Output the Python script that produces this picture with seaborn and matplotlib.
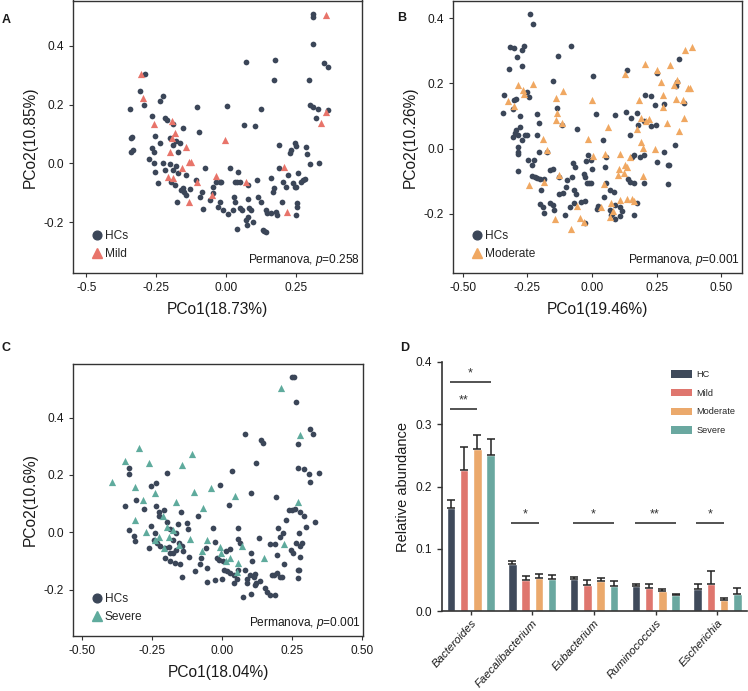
import matplotlib
matplotlib.use("Agg")
import matplotlib.pyplot as plt
import seaborn as sns
import pandas as pd
import numpy as np
from matplotlib.lines import Line2D
from matplotlib.patches import Patch

# ---------------- data ----------------
A_hc = [(0.31,0.508),(0.31,0.499),(0.31,0.407),(0.071,0.345),(0.175,0.350),(0.169,0.282),(0.295,0.285),
        (0.348,0.342),(0.363,0.328),(0.298,0.198),(0.31,0.192),(0.327,0.184),(0.321,0.153),(0.365,0.181),
        (0.125,0.186),(0.104,0.128),(0.064,0.132),(0.001,0.195),(-0.105,0.192),(-0.099,0.105),(-0.292,0.303),
        (-0.31,0.245),(-0.295,0.20),(-0.345,0.186),(-0.238,0.211),(-0.226,0.228),(-0.265,0.162),(-0.218,0.153),
        (-0.212,0.147),(-0.156,0.119),(-0.19,0.133),(-0.255,0.093),(-0.342,0.087),(-0.337,0.088),(-0.339,0.04),
        (-0.333,0.045),(-0.236,0.068),(-0.264,0.053),(-0.257,0.037),(-0.202,0.087),(-0.19,0.064),(-0.181,0.076),
        (-0.167,0.068),(-0.173,0.04),(-0.277,0.015),(-0.257,0.002),(-0.226,0.0),(-0.202,-0.003),(-0.179,-0.008),
        (-0.218,-0.023),(-0.254,-0.028),(-0.19,-0.023),(-0.171,-0.034),(-0.143,-0.04),(-0.244,-0.068),(-0.196,-0.062),
        (-0.185,-0.073),(-0.155,-0.085),(-0.151,-0.096),(-0.161,-0.09),(-0.129,-0.088),(-0.143,-0.107),(-0.175,-0.13),
        (-0.107,-0.056),(-0.075,-0.015),(-0.095,-0.113),(-0.086,-0.098),(-0.085,-0.155),(-0.06,-0.124),(-0.048,-0.079),
        (-0.036,-0.062),(-0.024,-0.062),(-0.018,-0.065),(-0.048,-0.102),(-0.024,-0.13),(-0.03,-0.147),(-0.012,-0.158),
        (0.007,-0.173),(0.024,-0.158),(0.012,-0.017),(0.042,-0.028),(0.03,-0.062),(0.039,-0.062),(0.048,-0.062),
        (0.077,-0.073),(0.027,-0.113),(0.03,-0.13),(0.048,-0.153),(0.056,-0.158),(0.038,-0.224),(0.071,-0.192),
        (0.077,-0.184),(0.074,-0.211),(0.095,-0.2),(0.077,-0.122),(0.081,-0.153),(0.089,-0.158),(0.111,-0.056),
        (0.113,-0.113),(0.125,-0.13),(0.143,-0.158),(0.146,-0.169),(0.131,-0.226),(0.143,-0.234),(0.135,-0.23),
        (0.161,-0.051),(0.169,-0.085),(0.167,-0.096),(0.179,-0.166),(0.182,-0.175),(0.161,-0.169),(0.188,-0.017),
        (0.19,0.062),(0.202,-0.062),(0.198,-0.13),(0.22,-0.04),(0.226,0.034),(0.232,0.045),(0.244,0.068),(0.25,0.06),
        (0.238,-0.068),(0.244,-0.079),(0.25,-0.082),(0.254,-0.136),(0.254,-0.147),(0.248,-0.175),(0.256,-0.034),
        (0.268,-0.062),(0.274,-0.056),(0.282,-0.053),(0.286,0.056),(0.288,0.032),(0.298,-0.003),(0.333,0.0),
        (0.212,-0.081)]
A_mild = [(-0.304,0.303),(-0.298,0.223),(-0.259,0.133),(-0.194,0.145),(-0.182,0.102),(-0.193,0.087),(-0.202,0.04),
          (-0.143,0.054),(-0.133,0.006),(-0.125,0.004),(-0.158,-0.015),(-0.208,-0.045),(-0.19,-0.051),(-0.104,-0.062),
          (-0.133,-0.133),(-0.05,-0.107),(-0.038,-0.042),(-0.004,0.081),(0.071,-0.062),(0.206,-0.011),(0.217,-0.167),
          (0.356,0.506),(0.357,0.175),(0.337,0.136)]

B_hc = [(-0.241,0.413),(-0.229,0.381),(-0.316,0.311),(-0.3,0.308),(-0.29,0.281),(-0.271,0.301),(-0.262,0.314),
        (-0.322,0.243),(-0.271,0.252),(-0.341,0.165),(-0.303,0.15),(-0.292,0.151),(-0.307,0.122),(-0.345,0.11),
        (-0.251,0.173),(-0.242,0.158),(-0.213,0.107),(-0.206,0.079),(-0.277,0.099),(-0.277,0.066),(-0.294,0.056),
        (-0.296,0.048),(-0.305,0.036),(-0.284,0.041),(-0.258,0.041),(-0.251,0.041),(-0.271,0.026),(-0.286,0.005),
        (-0.284,-0.01),(-0.286,-0.017),(-0.213,0.043),(-0.206,-0.01),(-0.248,-0.034),(-0.225,-0.034),(-0.232,-0.051),
        (-0.286,-0.068),(-0.232,-0.085),(-0.219,-0.087),(-0.213,-0.089),(-0.2,-0.092),(-0.187,-0.092),(-0.174,-0.01),
        (-0.161,-0.066),(-0.129,-0.087),(-0.151,-0.061),(-0.196,-0.128),(-0.2,-0.17),(-0.191,-0.179),(-0.184,-0.197),
        (-0.164,-0.168),(-0.151,-0.173),(-0.148,-0.189),(-0.129,-0.138),(-0.112,-0.136),(-0.106,-0.204),(-0.097,-0.097),
        (-0.099,-0.117),(-0.077,-0.087),(-0.073,-0.043),(-0.067,-0.056),(-0.071,-0.128),(-0.062,-0.138),(-0.084,-0.179),
        (-0.071,-0.168),(-0.043,-0.163),(-0.026,-0.16),(-0.032,-0.077),(-0.026,-0.087),(-0.019,-0.104),(-0.012,-0.105),
        (-0.004,-0.105),(-0.022,-0.039),(-0.004,-0.034),(0.0,-0.061),(-0.028,-0.228),(-0.015,-0.02),(0.019,-0.184),
        (0.023,-0.177),(0.055,-0.105),(0.045,-0.148),(0.068,-0.128),(0.084,-0.133),(0.09,-0.173),(0.071,-0.189),
        (0.077,-0.199),(0.09,-0.214),(0.11,-0.207),(0.116,-0.192),(0.107,-0.179),(0.073,-0.204),(0.161,-0.204),
        (0.052,-0.056),(0.054,-0.026),(0.09,0.102),(0.133,0.112),(0.152,0.094),(0.174,0.11),(0.148,0.041),
        (0.138,-0.092),(0.146,-0.102),(0.164,-0.104),(0.174,-0.168),(0.155,-0.026),(0.161,-0.018),(0.178,0.071),
        (0.202,0.084),(0.206,0.163),(0.229,0.161),(0.245,0.133),(0.229,0.068),(0.247,0.073),(0.251,0.232),
        (0.277,0.138),(0.202,-0.105),(0.187,-0.026),(0.203,-0.018),(0.251,-0.041),(0.277,-0.01),(0.294,-0.107),
        (0.294,-0.051),(0.299,-0.049),(0.322,0.01),(0.326,0.191),(0.329,0.204),(0.338,0.276),(0.354,0.141),
        (0.003,0.224),(-0.081,0.314),(-0.133,0.283),(-0.151,0.207),(-0.135,0.126),(-0.116,0.073),(-0.058,0.061),
        (0.017,0.107),(0.041,0.026),(0.135,0.24)]
B_moderate = [(0.387,0.311),(0.361,0.303),(0.303,0.255),(0.204,0.26),(0.251,0.242),(0.129,0.23),(0.267,0.204),
              (0.329,0.209),(0.316,0.194),(0.378,0.187),(0.371,0.187),(0.274,0.163),(0.326,0.151),(0.351,0.148),
              (0.275,0.128),(0.18,0.148),(0.22,0.092),(0.209,0.085),(0.189,0.095),(0.29,0.08),(0.354,0.095),
              (0.336,0.053),(0.174,0.059),(0.189,0.02),(0.197,0.002),(0.245,-0.002),(0.196,-0.084),(0.148,-0.026),
              (0.11,-0.015),(0.129,-0.049),(0.135,-0.056),(0.122,-0.074),(0.103,-0.061),(0.1,-0.082),(0.045,-0.107),
              (0.052,-0.015),(0.061,0.066),(0.006,-0.023),(-0.014,0.031),(-0.001,0.148),(0.135,-0.155),(0.155,-0.155),
              (0.161,-0.16),(0.107,-0.158),(0.073,-0.168),(0.068,-0.209),(0.08,-0.191),(0.036,-0.179),(-0.045,-0.211),
              (-0.032,-0.224),(-0.058,-0.177),(-0.08,-0.245),(-0.142,-0.217),(-0.187,-0.102),(-0.245,-0.112),
              (-0.129,-0.082),(-0.189,0.031),(-0.174,-0.005),(-0.138,0.156),(-0.112,0.177),(-0.135,0.109),
              (-0.139,0.087),(-0.116,0.079),(-0.228,0.199),(-0.284,0.194),(-0.267,0.181),(-0.262,0.168),
              (-0.326,0.145),(-0.303,0.13)]

C_hc = [(0.25,0.541),(0.256,0.541),(0.264,0.456),(0.081,0.343),(0.14,0.322),(0.145,0.31),(0.123,0.243),
        (0.315,0.361),(0.327,0.343),(0.271,0.308),(0.271,0.223),(0.292,0.222),(0.312,0.203),(0.315,0.177),
        (0.348,0.206),(0.194,0.124),(0.105,0.136),(0.037,0.215),(-0.008,0.165),(0.026,0.095),(-0.331,0.223),
        (-0.333,0.202),(-0.196,0.208),(-0.235,0.173),(-0.254,0.162),(-0.306,0.113),(-0.345,0.092),(-0.28,0.081),
        (-0.236,0.09),(-0.226,0.072),(-0.208,0.078),(-0.223,0.055),(-0.331,0.008),(-0.315,-0.012),(-0.31,-0.03),
        (-0.252,0.022),(-0.238,-0.001),(-0.262,-0.056),(-0.244,-0.027),(-0.232,-0.038),(-0.22,-0.048),(-0.202,-0.056),
        (-0.19,-0.05),(-0.196,0.034),(-0.185,0.01),(-0.157,0.028),(-0.145,0.072),(-0.125,0.031),(-0.121,0.01),
        (-0.163,-0.001),(-0.173,-0.027),(-0.155,-0.038),(-0.143,-0.048),(-0.164,-0.062),(-0.185,-0.073),(-0.173,-0.073),
        (-0.202,-0.091),(-0.185,-0.102),(-0.167,-0.106),(-0.149,-0.11),(-0.139,-0.065),(-0.119,-0.085),(-0.143,-0.155),
        (-0.095,-0.135),(-0.077,-0.11),(-0.074,-0.091),(-0.054,-0.126),(-0.054,-0.172),(-0.086,0.055),(-0.033,0.014),
        (-0.024,-0.033),(-0.056,-0.056),(-0.018,-0.091),(-0.024,-0.166),(0.0,-0.164),(-0.012,-0.097),(0.004,-0.099),
        (0.014,-0.064),(0.03,-0.058),(0.008,-0.131),(0.018,-0.135),(0.03,-0.143),(0.042,-0.149),(0.056,-0.024),
        (0.057,0.014),(0.063,-0.038),(0.056,-0.131),(0.044,-0.178),(0.054,-0.164),(0.081,-0.131),(0.089,-0.164),
        (0.089,-0.176),(0.077,-0.227),(0.104,-0.215),(0.101,-0.149),(0.113,-0.155),(0.119,-0.147),(0.121,-0.176),
        (0.117,-0.184),(0.135,-0.169),(0.131,-0.019),(0.104,-0.071),(0.107,-0.102),(0.155,-0.195),(0.161,-0.207),
        (0.17,-0.219),(0.188,-0.219),(0.179,-0.149),(0.185,-0.149),(0.196,-0.143),(0.208,-0.155),(0.214,-0.157),
        (0.17,-0.041),(0.188,-0.041),(0.196,-0.079),(0.202,0.014),(0.206,-0.015),(0.218,-0.001),(0.22,-0.11),
        (0.23,0.043),(0.239,0.076),(0.25,0.076),(0.262,0.08),(0.248,-0.062),(0.254,-0.073),(0.265,-0.038),
        (0.271,-0.131),(0.277,-0.131),(0.271,-0.16),(0.28,-0.087),(0.28,-0.047),(0.286,-0.038),(0.28,0.072),
        (0.292,0.055),(0.301,0.017),(0.333,0.034),(0.274,-0.003)]
C_severe = [(0.212,0.505),(0.28,0.34),(0.271,0.105),(0.22,-0.041),(0.151,-0.091),(0.056,-0.106),(0.048,0.128),
            (0.071,-0.048),(0.054,-0.14),(0.029,-0.091),(0.014,-0.102),(-0.006,-0.052),(-0.002,-0.073),(-0.071,-0.064),
            (-0.068,0.084),(-0.054,-0.027),(-0.039,0.153),(-0.098,0.142),(-0.107,0.272),(-0.143,0.233),(-0.164,0.107),
            (-0.115,-0.023),(-0.155,-0.044),(-0.173,0.008),(-0.196,0.02),(-0.211,0.055),(-0.19,-0.015),(-0.226,-0.015),
            (-0.208,-0.056),(-0.238,-0.027),(-0.27,0.002),(-0.238,0.138),(-0.262,0.241),(-0.298,0.293),(-0.348,0.247),
            (-0.393,0.174),(-0.31,0.159),(-0.283,0.113),(-0.31,0.043)]

genera = ["Bacteroides", "Faecalibacterium", "Eubacterium", "Ruminococcus", "Escherichia"]
groups = ["HC", "Mild", "Moderate", "Severe"]
mean_HC       = [0.166, 0.075, 0.051, 0.040, 0.036]
mean_Mild     = [0.227, 0.049, 0.042, 0.037, 0.044]
mean_Moderate = [0.261, 0.053, 0.048, 0.032, 0.017]
mean_Severe   = [0.250, 0.052, 0.040, 0.025, 0.027]
top_HC        = [0.179, 0.081, 0.055, 0.043, 0.043]
top_Mild      = [0.263, 0.057, 0.049, 0.044, 0.064]
top_Moderate  = [0.282, 0.060, 0.053, 0.036, 0.021]
top_Severe    = [0.276, 0.058, 0.048, 0.028, 0.037]
# significance: (genus index, target group, y, label)
sig_marks = [(0, "Severe", 0.368, "*"), (0, "Moderate", 0.325, "**"), (1, "Moderate", 0.142, "*"),
             (2, "Severe", 0.142, "*"), (3, "Severe", 0.142, "**"), (4, "Moderate", 0.142, "*")]

# ---------------- style ----------------
sns.set_theme(style="ticks")
plt.rcParams['font.family'] = ['Liberation Sans', 'DejaVu Sans']
plt.rcParams['mathtext.fontset'] = 'custom'
plt.rcParams['mathtext.it'] = 'Liberation Sans:italic'
plt.rcParams['mathtext.rm'] = 'Liberation Sans'

HC_COL = "#3b4658"
PAT_COLS = {"Mild": "#e8746a", "Moderate": "#f0a862", "Severe": "#5fab9d"}
BAR_COLS = {"HC": "#3f4a5b", "Mild": "#df766e", "Moderate": "#eba96c", "Severe": "#6aa8a0"}
TXT = "#1a1a1a"
SPINE = "#333333"

W, H = 748, 691
fig = plt.figure(figsize=(W / 100, H / 100), dpi=100)


def frac(l, t, r, b):
    return [l / W, 1 - b / H, (r - l) / W, (b - t) / H]


def scatter_panel(rect, hc, pat, pname, xlim, ylim, xticks, xtl, xlabel, ylabel, ptext, letter, lpos):
    ax = fig.add_axes(frac(*rect))
    df_hc = pd.DataFrame(hc, columns=["x", "y"])
    df_pat = pd.DataFrame(pat, columns=["x", "y"])
    sns.scatterplot(data=df_hc, x="x", y="y", color=HC_COL, marker="o", s=17,
                    linewidth=0, ax=ax, legend=False)
    sns.scatterplot(data=df_pat, x="x", y="y", color=PAT_COLS[pname], marker="^", s=27,
                    linewidth=0, ax=ax, legend=False)
    ax.set_xlim(xlim)
    ax.set_ylim(ylim)
    ax.set_xticks(xticks)
    ax.set_xticklabels(xtl)
    ax.set_yticks([-0.2, 0.0, 0.2, 0.4])
    ax.set_yticklabels(["-0.2", "0.0", "0.2", "0.4"])
    ax.tick_params(labelsize=8.6, colors=SPINE, labelcolor=TXT, length=3, width=0.8)
    ax.set_xlabel(xlabel, fontsize=11.2, color=TXT, labelpad=6)
    ax.set_ylabel(ylabel, fontsize=11.2, color=TXT, labelpad=4)
    for s in ax.spines.values():
        s.set_visible(True)
        s.set_color(SPINE)
        s.set_linewidth(1.0)
    handles = [Line2D([], [], marker="o", color=HC_COL, linestyle="", markersize=6.3),
               Line2D([], [], marker="^", color=PAT_COLS[pname], linestyle="", markersize=6.5)]
    ax.legend(handles, ["HCs", pname], loc="lower left", frameon=False, fontsize=8.6,
              handletextpad=0.05, labelspacing=0.5, borderaxespad=0.0, handlelength=1.2,
              bbox_to_anchor=(0.042, 0.03))
    ax.text(0.995, 0.02, ptext, transform=ax.transAxes, ha="right", va="bottom",
            fontsize=8.6, color=TXT)
    fig.text(lpos[0] / W, 1 - lpos[1] / H, letter, fontsize=9, fontweight="bold",
             color=TXT, ha="left", va="center")
    return ax


scatter_panel((73, 0.5, 362, 273), A_hc, A_mild, "Mild", (-0.548, 0.485), (-0.373, 0.554),
              [-0.5, -0.25, 0.0, 0.25], ["-0.5", "-0.25", "0.00", "0.25"],
              "PCo1(18.73%)", "PCo2(10.85%)", r"Permanova, $p$=0.258", "A", (2, 20))
scatter_panel((453, 0.5, 742, 273), B_hc, B_moderate, "Moderate", (-0.537, 0.58), (-0.381, 0.454),
              [-0.5, -0.25, 0.0, 0.25, 0.5], ["-0.50", "-0.25", "0.00", "0.25", "0.50"],
              "PCo1(19.46%)", "PCo2(10.26%)", r"Permanova, $p$=0.001", "B", (397, 18))
scatter_panel((73, 364, 363, 636), C_hc, C_severe, "Severe", (-0.532, 0.504), (-0.362, 0.587),
              [-0.5, -0.25, 0.0, 0.25, 0.5], ["-0.50", "-0.25", "0.00", "0.25", "0.50"],
              "PCo1(18.04%)", "PCo2(10.6%)", r"Permanova, $p$=0.001", "C", (1, 348))

# ---------------- panel D ----------------
axD = fig.add_axes(frac(442, 362, 747, 611))
means = {"HC": mean_HC, "Mild": mean_Mild, "Moderate": mean_Moderate, "Severe": mean_Severe}
tops = {"HC": top_HC, "Mild": top_Mild, "Moderate": top_Moderate, "Severe": top_Severe}
rows = []
for g in groups:
    for i, gen in enumerate(genera):
        rows.append({"genus": gen, "group": g, "value": means[g][i]})
dfD = pd.DataFrame(rows)
sns.barplot(data=dfD, x="genus", y="value", hue="group", order=genera, hue_order=groups,
            palette=BAR_COLS, width=0.86, gap=0.36, errorbar=None, saturation=1,
            ax=axD, legend=False)
centers = {}
for g, cont in zip(groups, axD.containers):
    xs = [p.get_x() + p.get_width() / 2 for p in cont.patches]
    hs = [p.get_height() for p in cont.patches]
    centers[g] = xs
    axD.errorbar(xs, hs, yerr=[np.zeros(len(hs)), np.array(tops[g]) - np.array(hs)],
                 fmt="none", ecolor="#222222", elinewidth=1.1, capsize=2.6, capthick=1.1, zorder=1)
for gi, target, yv, lab in sig_marks:
    x0 = centers["HC"][gi] - 0.02
    x1 = centers[target][gi]
    axD.plot([x0, x1], [yv, yv], color="#444444", lw=1.3, solid_capstyle="butt")
    axD.text((x0 + x1) / 2, yv + 0.004, lab, ha="center", va="bottom", fontsize=9, color="#333333")

axD.set_xlim(-0.465, 4.48)
axD.set_ylim(0, 0.4)
axD.set_yticks([0.0, 0.1, 0.2, 0.3, 0.4])
axD.set_yticklabels(["0.0", "0.1", "0.2", "0.3", "0.4"])
axD.set_xlabel("")
axD.set_ylabel("Relative abundance", fontsize=10.5, color=TXT, labelpad=4)
axD.tick_params(axis="y", labelsize=8.6, length=3.5, width=1.0, colors=SPINE, labelcolor=TXT)
axD.tick_params(axis="x", labelsize=8.2, length=3, width=1.0, colors=SPINE, labelcolor=TXT, pad=2)
for lbl in axD.get_xticklabels():
    lbl.set_rotation(48)
    lbl.set_ha("right")
    lbl.set_rotation_mode("anchor")
    lbl.set_fontstyle("italic")
sns.despine(ax=axD)
for s in ["left", "bottom"]:
    axD.spines[s].set_color(SPINE)
    axD.spines[s].set_linewidth(1.2)
handlesD = [Patch(facecolor=BAR_COLS[g], edgecolor="none") for g in groups]
axD.legend(handlesD, groups, loc="upper right", frameon=False, fontsize=6.6,
           handlelength=2.3, handleheight=0.85, labelspacing=1.05, handletextpad=0.55,
           bbox_to_anchor=(0.99, 1.0))
fig.text(400 / W, 1 - 348 / H, "D", fontsize=9, fontweight="bold", color=TXT, ha="left", va="center")

fig.savefig("out.png", dpi=100)
